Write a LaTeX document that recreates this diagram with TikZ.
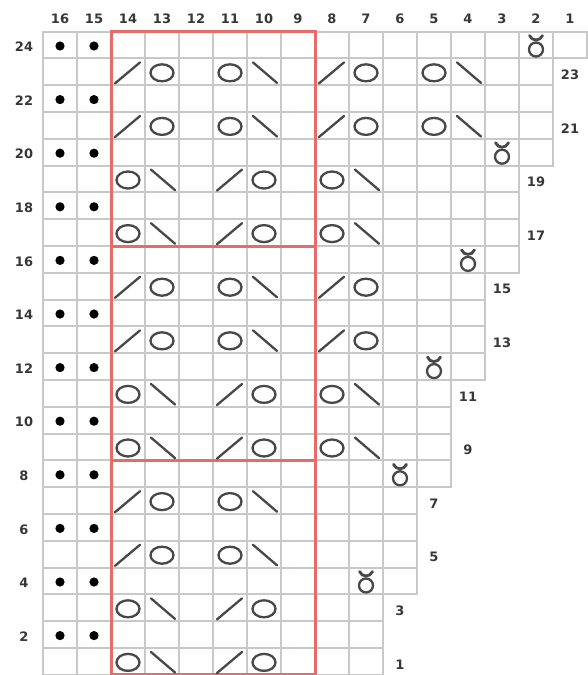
\documentclass[tikz,border=0pt]{standalone}
\usepackage{fontspec}
\newfontfamily\chartlbl{DejaVu Sans}
\definecolor{gridgray}{RGB}{200,200,200}
\definecolor{chartred}{RGB}{230,108,108}
\definecolor{symgray}{RGB}{72,72,72}
\definecolor{lblgray}{RGB}{55,55,55}
\tikzset{
  gridline/.style={draw=gridgray, line width=2pt},
  redline/.style={draw=chartred, line width=3pt},
  sym/.style={draw=symgray, line width=2.3pt, line cap=round},
  lbl/.style={font=\chartlbl\bfseries\fontsize{13}{14}\selectfont, text=lblgray, inner sep=0pt},
}
% cell helpers: column c (1..16), row r (1..24)
\newcommand\kcCenter[2]{\pgfmathsetmacro\kcX{60+34*(16-#1)}\pgfmathsetmacro\kcY{46+26.8*(24-#2)}}
\newcommand\kcCorner[2]{\pgfmathsetmacro\kcL{43+34*(16-#1)}\pgfmathsetmacro\kcT{31.6+26.8*(24-#2)}}
\newcommand\ChYO[2]{\kcCenter{#1}{#2}\draw[sym] (\kcX,\kcY) ellipse [x radius=11.5pt, y radius=8.5pt];}
\newcommand\ChKtog[2]{\kcCorner{#1}{#2}\draw[sym] (\kcL+4,\kcT+25) -- (\kcL+29,\kcT+4);}
\newcommand\ChSsk[2]{\kcCorner{#1}{#2}\draw[sym] (\kcL+6,\kcT+4) -- (\kcL+30,\kcT+24.5);}
\newcommand\ChPurl[2]{\kcCenter{#1}{#2}\fill[black] (\kcX,\kcY) circle [radius=4.6pt];}
\newcommand\ChTw[2]{\kcCenter{#1}{#2}%
  \draw[sym] (\kcX,\kcY+3.5) circle [radius=7pt];
  \draw[sym, line width=2.8pt] (\kcX-6.5,\kcY-10.5) .. controls (\kcX-4,\kcY-4.5) and (\kcX+4,\kcY-4.5) .. (\kcX+6.5,\kcY-10.5);}
\begin{document}
\begin{tikzpicture}[x=1pt,y=-1pt]
\useasboundingbox (0,0) rectangle (587,675);
\fill[white] (0,0) rectangle (587,675);
% grid (staircase)
\foreach \r in {1,...,24}{
  \pgfmathtruncatemacro\kcE{7-floor(\r/4)}
  \foreach \c in {\kcE,...,16}{
    \draw[gridline] ({43+34*(16-\c)},{31.6+26.8*(24-\r)}) rectangle ++(34,26.8);
  }
}
% red repeat box
\draw[redline] (111,31.6) rectangle (315,674.8);
\draw[redline] (111,246) -- (315,246);
\draw[redline] (111,460.4) -- (315,460.4);
% column numbers
\foreach \c in {1,...,16}{
  \node[lbl] (col\c) at ({60+34*(16-\c)},19) {\c};
}
% even row numbers (left)
\foreach \r in {2,4,...,24}{
  \node[lbl] (rowl\r) at (24,{47+26.8*(24-\r)}) {\r};
}
% odd row numbers (right)
\foreach \r in {1,3,...,23}{
  \pgfmathtruncatemacro\kcE{7-floor(\r/4)}
  \node[lbl] (rowr\r) at ({60+34*(17-\kcE)},{48+26.8*(24-\r)}) {\r};
}
% purl dots
\foreach \r in {2,4,...,24}{
  \ChPurl{16}{\r}
  \ChPurl{15}{\r}
}
% twisted stitches
\ChTw{2}{24}
\ChTw{3}{20}
\ChTw{4}{16}
\ChTw{5}{12}
\ChTw{6}{8}
\ChTw{7}{4}
% pattern A rows
\foreach \r in {23,21,15,13,7,5}{
  \ChKtog{14}{\r}
  \ChYO{13}{\r}
  \ChYO{11}{\r}
  \ChSsk{10}{\r}
}
\foreach \r in {23,21}{
  \ChKtog{8}{\r}
  \ChYO{7}{\r}
  \ChYO{5}{\r}
  \ChSsk{4}{\r}
}
\foreach \r in {15,13}{
  \ChKtog{8}{\r}
  \ChYO{7}{\r}
}
% pattern B rows
\foreach \r in {19,17,11,9,3,1}{
  \ChYO{14}{\r}
  \ChSsk{13}{\r}
  \ChKtog{11}{\r}
  \ChYO{10}{\r}
}
\foreach \r in {19,17,11,9}{
  \ChYO{8}{\r}
  \ChSsk{7}{\r}
}
\end{tikzpicture}
\end{document}
